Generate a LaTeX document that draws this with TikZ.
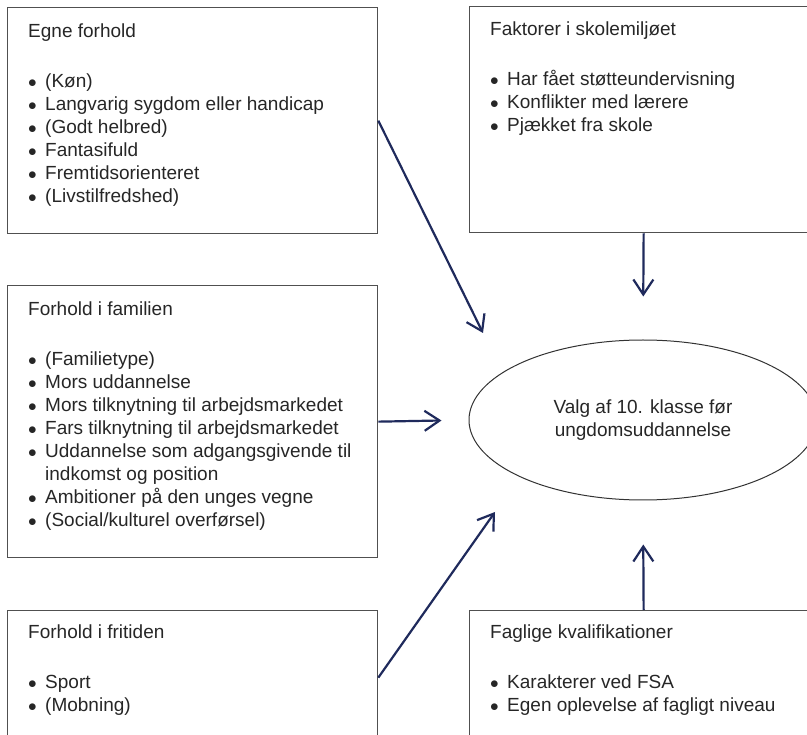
\documentclass[tikz,border=0pt]{standalone}
\usepackage{fontspec}
\setmainfont{Liberation Sans}
\usepackage{pgf,tikz}
\usetikzlibrary{arrows.meta,positioning,shapes.geometric}
\definecolor{blu}{RGB}{31,42,92}
\definecolor{grigio}{RGB}{80,80,80}
\newcommand{\punto}[1]{\makebox[17pt][l]{$\bullet$}#1}
\newcommand{\rientro}[1]{\hspace*{17pt}#1}

\begin{document}
\begin{tikzpicture}[x=1pt,y=-1pt,
    riquadro/.style={draw=grigio, line width=1.3pt, inner sep=0pt, anchor=north west},
    testo/.style={align=left, inner sep=0pt, font=\fontsize{19}{23}\selectfont, text=black!85},
    freccia/.style={blu, line width=2.2pt, -{Straight Barb[length=15pt,width=20pt]}}]
    % Area del disegno
    \useasboundingbox (0,0) rectangle (807,735);
    \clip (0,0) rectangle (807,735);

    % Disegna i riquadri
    \node[riquadro, minimum width=370pt, minimum height=226pt] (egne) at (7,7) {};
    \node[riquadro, minimum width=348pt, minimum height=226pt] (skole) at (469,6) {};
    \node[riquadro, minimum width=370pt, minimum height=272pt] (familie) at (7,285) {};
    \node[riquadro, minimum width=370pt, minimum height=134pt] (fritid) at (7,610) {};
    \node[riquadro, minimum width=348pt, minimum height=134pt] (faglig) at (469,610) {};

    % Disegna l'ellisse centrale
    \node[testo, align=center, draw=black!80, line width=1pt, ellipse,
          minimum width=348pt, minimum height=160pt] (valg) at (643,420)
          {Valg af 10. klasse før\\ungdomsuddannelse};

    % Testi dei riquadri
    \node[testo, below right=17pt and 21pt of egne.north west] (t-egne)
        {Egne forhold\\[27pt]
         \punto{(Køn)}\\
         \punto{Langvarig sygdom eller handicap}\\
         \punto{(Godt helbred)}\\
         \punto{Fantasifuld}\\
         \punto{Fremtidsorienteret}\\
         \punto{(Livstilfredshed)}};
    \node[testo, below right=16pt and 21pt of skole.north west] (t-skole)
        {Faktorer i skolemiljøet\\[27pt]
         \punto{Har fået støtteundervisning}\\
         \punto{Konflikter med lærere}\\
         \punto{Pjækket fra skole}};
    \node[testo, below right=17pt and 21pt of familie.north west] (t-familie)
        {Forhold i familien\\[27pt]
         \punto{(Familietype)}\\
         \punto{Mors uddannelse}\\
         \punto{Mors tilknytning til arbejdsmarkedet}\\
         \punto{Fars tilknytning til arbejdsmarkedet}\\
         \punto{Uddannelse som adgangsgivende til}\\
         \rientro{indkomst og position}\\
         \punto{Ambitioner på den unges vegne}\\
         \punto{(Social/kulturel overførsel)}};
    \node[testo, below right=15pt and 21pt of fritid.north west] (t-fritid)
        {Forhold i fritiden\\[27pt]
         \punto{Sport}\\
         \punto{(Mobning)}};
    \node[testo, below right=15pt and 21pt of faglig.north west] (t-faglig)
        {Faglige kvalifikationer\\[27pt]
         \punto{Karakterer ved FSA}\\
         \punto{Egen oplevelse af fagligt niveau}};

    % Punte delle frecce oblique
    \coordinate (p1) at (483,333);
    \coordinate (p4) at (495,512);

    % Disegna le frecce
    \draw[freccia] (egne.east) -- (p1);
    \draw[freccia, shorten >=43pt] (skole.south) -- (valg.north);
    \draw[freccia, shorten >=27pt] (familie.east) -- (valg.west);
    \draw[freccia] (fritid.east) -- (p4);
    \draw[freccia, shorten >=44pt] (faglig.north) -- (valg.south);
\end{tikzpicture}
\end{document}
